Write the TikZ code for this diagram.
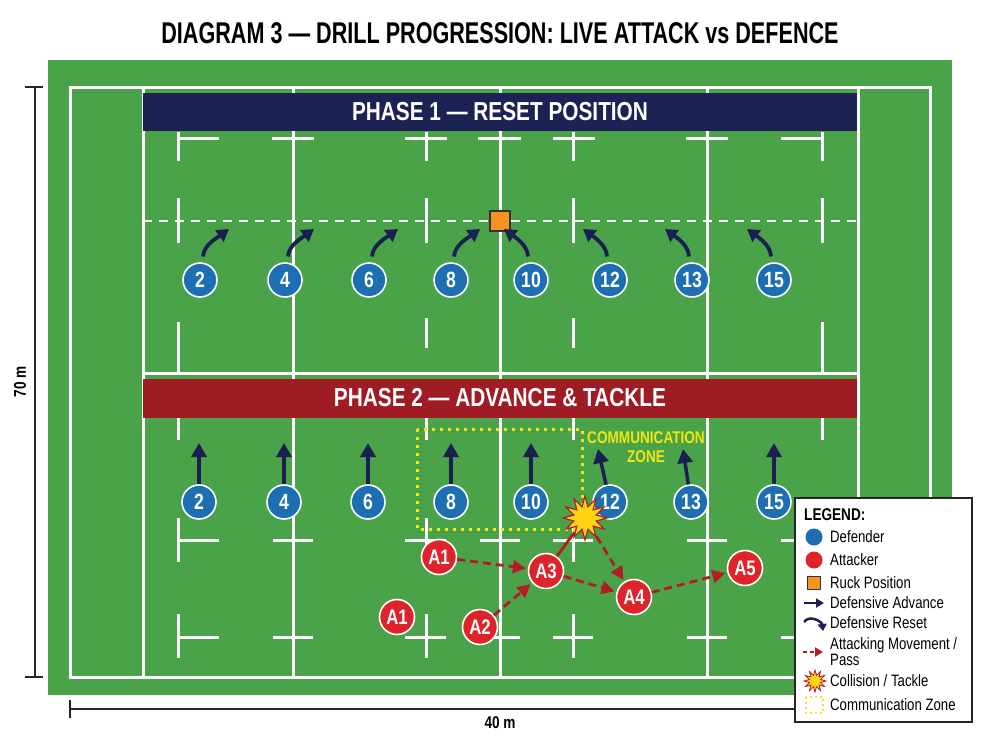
\documentclass[tikz,border=0pt]{standalone}
\usepackage{fontspec}
\setmainfont[FakeStretch=0.8]{Liberation Sans}
\newfontfamily\titlefont[FakeStretch=0.72]{Liberation Sans}
\usepackage{tikz}
\usetikzlibrary{arrows.meta,shapes.geometric}

\definecolor{pitch}{RGB}{74,163,72}
\definecolor{navybar}{RGB}{28,35,84}
\definecolor{redbar}{RGB}{160,28,36}
\definecolor{defblue}{RGB}{30,110,178}
\definecolor{attred}{RGB}{222,35,42}
\definecolor{arrnavy}{RGB}{26,32,82}
\definecolor{ruckorange}{RGB}{245,146,32}
\definecolor{passred}{RGB}{176,30,35}
\definecolor{zoneyellow}{RGB}{240,230,20}
\definecolor{starfill}{RGB}{255,212,20}

\tikzset{
  fieldline/.style={white, line width=3},
  banner/.style={minimum width=714, minimum height=38, inner sep=0, text=white,
    font=\bfseries\fontsize{26}{26}\selectfont},
  defender/.style={circle, draw=white, line width=1.6, fill=defblue, minimum size=34,
    inner sep=0, text=white, font=\bfseries\fontsize{22}{22}\selectfont},
  attacker/.style={circle, draw=white, line width=1.6, fill=attred, minimum size=35,
    inner sep=0, text=white, font=\bfseries\fontsize{21}{21}\selectfont},
  advance/.style={arrnavy, line width=3.5, -{Triangle[width=15,length=14]}},
  reset/.style={arrnavy, line width=3.8, shorten <=6, -{Triangle[width=14,length=12]}},
  pass/.style={passred, line width=2.8, dash pattern=on 8pt off 5pt, shorten >=2,
    -{Triangle[width=13,length=13]}},
  tackle/.style={star, star points=12, star point ratio=1.9, fill=starfill, draw=passred,
    line width=1.2, minimum size=44, inner sep=0},
  legtext/.style={anchor=west, inner sep=0, font=\fontsize{16.5}{16.5}\selectfont},
  dimtext/.style={font=\bfseries\fontsize{17}{17}\selectfont}
}

\begin{document}
\begin{tikzpicture}[x=1pt, y=-1pt, >=Triangle]
% Canvas
\fill[white] (0,0) rectangle (1000,747);
\useasboundingbox (0,0) rectangle (1000,747);

% Title
\node[font=\titlefont\bfseries\fontsize{30}{30}\selectfont] (title) at (500,33)
  {DIAGRAM 3 — DRILL PROGRESSION: LIVE ATTACK vs DEFENCE};

%--- Pitch markings ---
\fill[pitch] (48,60) rectangle (952,695);
\draw[fieldline] (70,87) rectangle (930,677);
\foreach \x in {143,293,500,707,858} {
  \draw[fieldline] (\x,87) -- (\x,677);
}
\draw[fieldline] (143,373) -- (858,373);

% Hash marks, upper half
\foreach \x in {178,426,573,822} {
  \draw[fieldline] (\x,132) -- (\x,161);
  \draw[fieldline] (\x,198) -- (\x,243);
}
\foreach \x/\a/\b in {178/322/373, 426/318/348, 573/318/348, 822/322/373} {
  \draw[fieldline] (\x,\a) -- (\x,\b);
}
\foreach \a/\b in {178/219, 272/314, 405/447, 478/521, 553/595, 686/728, 781/822} {
  \draw[fieldline] (\a,138) -- (\b,138);
}

% Hash marks, lower half
\foreach \x in {178,426,573,822} {
  \draw[fieldline] (\x,417) -- (\x,440);
  \draw[fieldline] (\x,518) -- (\x,562);
  \draw[fieldline] (\x,614) -- (\x,658);
}
\foreach \a/\b in {178/219, 273/313, 405/446, 480/520, 553/593, 687/727, 781/822} {
  \draw[fieldline] (\a,540) -- (\b,540);
  \draw[fieldline] (\a,637) -- (\b,637);
}

% Phase banners
\node[banner, fill=navybar] (phase1) at (500,112) {PHASE 1 — RESET POSITION};
\node[banner, fill=redbar, minimum height=39] (phase2) at (500,398) {PHASE 2 — ADVANCE \& TACKLE};

%--- Phase 1: reset to the ruck ---
\draw[white, line width=2.5, dash pattern=on 9pt off 7pt] (143,221) -- (858,221);
\node[draw=black!80, fill=ruckorange, line width=1.2, minimum size=20, inner sep=0] (ruck) at (500,221) {};

\foreach \n/\x in {2/200,4/285,6/369,8/451} {
  \coordinate (rt\n) at (\x+29,229);
  \node[defender] (r\n) at (\x,280) {\n};
  \draw[reset] (r\n.80) .. controls +(0,-17) and +(-11,8) .. (rt\n);
}
\foreach \n/\x in {10/531,12/610,13/692,15/774} {
  \coordinate (rt\n) at (\x-27,229);
  \node[defender] (r\n) at (\x,280) {\n};
  \draw[reset] (r\n.100) .. controls +(0,-17) and +(11,8) .. (rt\n);
}

%--- Phase 2: line speed and contact ---
\draw[zoneyellow, line width=3, dash pattern=on 3pt off 5pt] (417,429) rectangle (582,529);
\node[align=center, text=zoneyellow, font=\bfseries\fontsize{17}{19}\selectfont] (zonelbl) at (646,447)
  {COMMUNICATION\\ZONE};

\foreach \n/\x/\tx/\ty in {2/199/199/443, 4/284/284/443, 6/368/368/443, 8/451/451/443,
                           10/531/531/443, 12/610/598/449, 13/691/683/449, 15/774/774/443} {
  \coordinate (at\n) at (\tx,\ty);
  \node[defender] (d\n) at (\x,502) {\n};
  \draw[advance] (d\n) -- (at\n);
}

% Attackers
\foreach \n/\l/\x/\y in {a1/A1/439/557, a1b/A1/397/617, a2/A2/480/627,
                         a3/A3/546/571, a4/A4/634/597, a5/A5/745/568} {
  \node[attacker] (\n) at (\x,\y) {\l};
}
\node[tackle] (tackle) at (585,518) {};
\draw[passred, line width=2.8] (a3) -- (tackle);
\foreach \s/\e in {a1/a3, a2/a3, a3/a4, tackle/a4, a4/a5} {
  \draw[pass] (\s) -- (\e);
}

%--- Dimensions ---
\coordinate (dimT) at (35,87);
\coordinate (dimB) at (35,677);
\draw[black!85, line width=1.5] (dimT) -- (dimB);
\draw[black!85, line width=1.5] (25,87) -- (43,87) (25,677) -- (43,677);
\node[dimtext, rotate=90] (len) at (20,382) {70 m};

\coordinate (dimL) at (70,709);
\coordinate (dimR) at (930,709);
\draw[black!85, line width=1.5] (dimL) -- (dimR);
\draw[black!85, line width=1.5] (70,700) -- (70,718) (930,700) -- (930,718);
\node[dimtext] (wid) at (500,723) {40 m};

%--- Legend ---
\node[draw=black!85, line width=1.3, fill=white, minimum width=177, minimum height=224, inner sep=0] (legend) at (883.5,610) {};
\node[legtext, font=\bfseries\fontsize{17}{17}\selectfont] (legtitle) at (804,515) {LEGEND:};

\node[circle, fill=defblue, minimum size=17, inner sep=0] (lgdef) at (814,537) {};
\node[circle, fill=attred, minimum size=17, inner sep=0] (lgatt) at (814,560) {};
\node[draw=black!80, fill=ruckorange, line width=1, minimum size=13, inner sep=0] (lgruck) at (814,583) {};
\coordinate (lgadvA) at (804,603);
\coordinate (lgadvB) at (824,603);
\draw[arrnavy, line width=2.5, -{Triangle[width=9,length=8]}] (lgadvA) -- (lgadvB);
\coordinate (lgresA) at (804,622);
\coordinate (lgresB) at (823,631);
\draw[arrnavy, line width=2.5, -{Triangle[width=9,length=7]}] (lgresA) .. controls +(6,-8) and +(-1,-9) .. (lgresB);
\coordinate (lgpassA) at (803,652);
\coordinate (lgpassB) at (823,652);
\draw[passred, line width=2, dash pattern=on 4pt off 3pt, -{Triangle[width=9,length=8]}] (lgpassA) -- (lgpassB);
\node[star, star points=12, star point ratio=1.9, fill=starfill, draw=passred, line width=0.8, minimum size=22, inner sep=0] (lgstar) at (815,681) {};
\draw[zoneyellow, line width=2.2, dash pattern=on 2pt off 3pt] (806,697) rectangle (823,713);

\foreach \y/\t [count=\i] in {537/Defender, 560/Attacker, 583/{Ruck Position}, 603/{Defensive Advance},
                             623/{Defensive Reset}, 681/{Collision / Tackle}, 705/{Communication Zone}} {
  \node[legtext] (lt\i) at (830,\y) {\t};
}
\node[legtext, align=left, font=\fontsize{16.5}{16}\selectfont] (ltpass) at (830,652) {Attacking Movement /\\Pass};
\end{tikzpicture}
\end{document}
